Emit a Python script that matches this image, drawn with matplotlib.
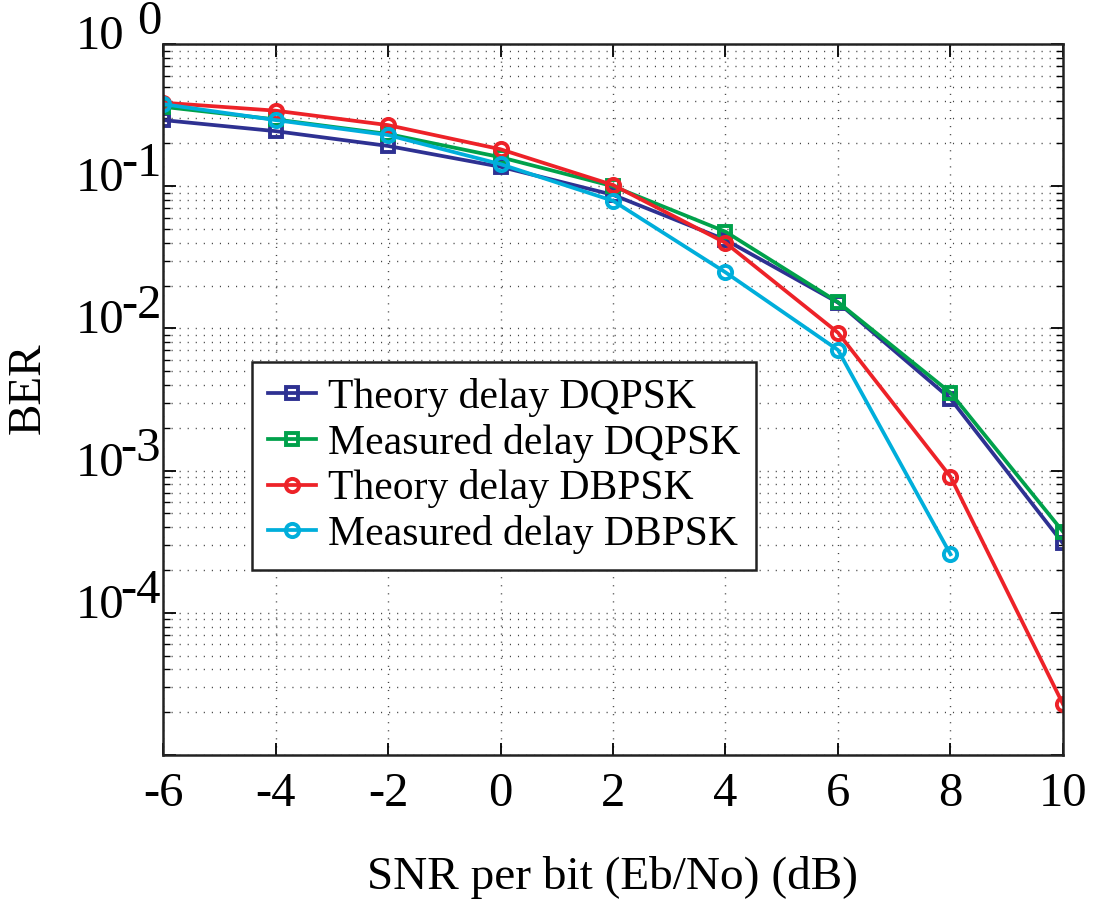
import matplotlib
matplotlib.use("Agg")
import matplotlib.pyplot as plt
import matplotlib.transforms as mtransforms
from matplotlib.ticker import LogLocator, NullFormatter, FixedLocator

# Eb/No in dB
snr_db = [-6, -4, -2, 0, 2, 4, 6, 8, 10]
snr_db_meas_dbpsk = [-6, -4, -2, 0, 2, 4, 6, 8]

ber_theory_dqpsk = [0.292, 0.244, 0.192, 0.137, 0.087, 0.042, 0.0152, 0.0032, 3.08e-4]
ber_meas_dqpsk = [0.362, 0.295, 0.233, 0.160, 0.100, 0.0479, 0.0153, 0.00353, 3.72e-4]
ber_theory_dbpsk = [0.387, 0.340, 0.269, 0.182, 0.102, 0.040, 0.00933, 9.06e-4, 2.28e-5]
ber_meas_dbpsk = [0.378, 0.292, 0.229, 0.143, 0.079, 0.0248, 0.00705, 2.58e-4]

series_labels = ["Theory delay DQPSK", "Measured delay DQPSK",
                 "Theory delay DBPSK", "Measured delay DBPSK"]
series_colors = ["#2E3192", "#00A14B", "#ED2228", "#00AEDB"]

x_ticks = [-6, -4, -2, 0, 2, 4, 6, 8, 10]
y_exponents = [0, -1, -2, -3, -4]

plt.rcParams["font.family"] = ["Liberation Serif", "DejaVu Serif"]

fig = plt.figure(figsize=(11.09, 9.08), dpi=100)
ax = fig.add_axes([0.147, 0.1685, 0.8115, 0.783])

lw = 2.7
sq = dict(marker="s", markersize=8, markeredgewidth=2.8, markerfacecolor="none")
ci = dict(marker="o", markersize=9.5, markeredgewidth=2.8, markerfacecolor="none")

ax.plot(snr_db, ber_theory_dqpsk, color=series_colors[0], lw=lw,
        label=series_labels[0], **sq)
ax.plot(snr_db, ber_meas_dqpsk, color=series_colors[1], lw=lw,
        label=series_labels[1], **sq)
ax.plot(snr_db, ber_theory_dbpsk, color=series_colors[2], lw=lw,
        label=series_labels[2], **ci)
ax.plot(snr_db_meas_dbpsk, ber_meas_dbpsk, color=series_colors[3], lw=lw,
        label=series_labels[3], **ci)

ax.set_yscale("log")
ax.set_xlim(-6, 10)
ax.set_ylim(1e-5, 1)

ax.xaxis.set_major_locator(FixedLocator(x_ticks))
ax.set_xticklabels([str(v) for v in x_ticks])
ax.yaxis.set_major_locator(LogLocator(base=10, numticks=10))
ax.yaxis.set_minor_locator(LogLocator(base=10, subs=range(2, 10), numticks=100))
ax.yaxis.set_major_formatter(NullFormatter())
ax.yaxis.set_minor_formatter(NullFormatter())

ax.tick_params(axis="both", which="both", direction="in", top=True, right=True)
ax.tick_params(axis="x", which="major", length=9, width=1.3, labelsize=35, pad=12)
ax.tick_params(axis="y", which="major", length=9, width=1.3)
ax.tick_params(axis="y", which="minor", length=5, width=1.0)

for s in ax.spines.values():
    s.set_linewidth(1.8)
    s.set_color("#222222")

grid_style = dict(color="#444444", linestyle=(0, (0.8, 5.0)), linewidth=1.0)
ax.grid(True, which="major", axis="x", **grid_style)
ax.grid(True, which="both", axis="y", **grid_style)

# Power-of-ten tick labels with large exponents
ytrans = ax.get_yaxis_transform()
base_trans = mtransforms.offset_copy(ytrans, fig=fig, x=0, y=7, units="dots")
exp_trans = mtransforms.offset_copy(ytrans, fig=fig, x=0, y=22, units="dots")
for e in y_exponents:
    ax.text(-0.0433, 10.0 ** e, "10", transform=base_trans, ha="right",
            va="center", fontsize=35, clip_on=False)
    ax.text(-0.002, 10.0 ** e, "%d" % e, transform=exp_trans, ha="right",
            va="center", fontsize=35, clip_on=False)

ax.set_xlabel("SNR per bit (Eb/No) (dB)", fontsize=34, va="center")
ax.xaxis.set_label_coords(0.5, -0.1716)
ax.set_ylabel("BER", fontsize=34, va="center")
ax.yaxis.set_label_coords(-0.1494, 0.516)

leg = ax.legend(loc="upper left", bbox_to_anchor=(0.0989, 0.5527),
                borderaxespad=0, fontsize=30, frameon=True, fancybox=False,
                handlelength=1.15, handletextpad=0.3, labelspacing=0.16,
                borderpad=0.38)
leg.get_frame().set_edgecolor("#222222")
leg.get_frame().set_linewidth(1.8)
leg.get_frame().set_alpha(1)

fig.savefig("out.png", dpi=100)
